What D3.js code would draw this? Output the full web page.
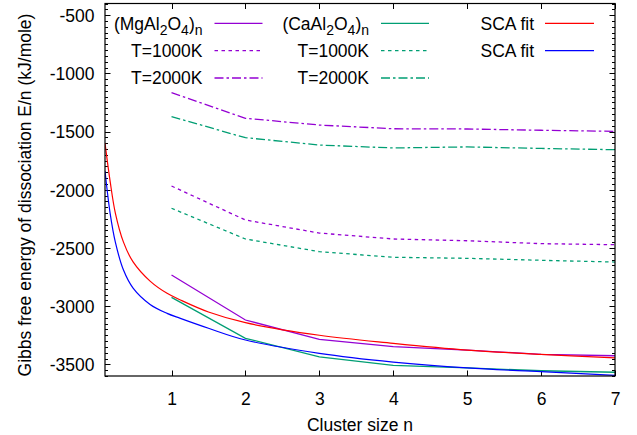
<!DOCTYPE html>
<html>
<head>
<meta charset="utf-8">
<script src="https://cdn.jsdelivr.net/npm/d3@7"></script>
<style>
  body { margin: 0; background: #fff; }
  svg text { font-family: "Liberation Sans", Arial, Helvetica, sans-serif; }
</style>
</head>
<body>
<svg id="chart" width="637" height="435"></svg>
<script>
// ---- data ----
const clusterN = [1, 2, 3, 4, 5, 6, 7];
const mgAl2O4_0K    = [-2732, -3119, -3285, -3348, -3377, -3414, -3426];
const mgAl2O4_1000K = [-1968, -2260, -2372, -2423, -2438, -2463, -2472];
const mgAl2O4_2000K = [-1166, -1386, -1444, -1476, -1478, -1489, -1498];
const caAl2O4_0K    = [-2924, -3276, -3435, -3508, -3531, -3555, -3568];
const caAl2O4_1000K = [-2159, -2423, -2532, -2580, -2589, -2606, -2621];
const caAl2O4_2000K = [-1372, -1553, -1616, -1641, -1632, -1645, -1656];

const fitN    = [0.1, 0.17, 0.24, 0.35, 0.48, 0.71, 0.94, 1.12, 1.5, 2, 3, 4, 5, 6, 7];
const fitMg   = [-1600, -1930, -2200, -2450, -2620, -2785, -2890, -2947, -3050, -3142, -3250, -3319, -3377, -3414, -3445];
const fitCa   = [-1840, -2205, -2450, -2690, -2845, -2985, -3062, -3105, -3190, -3291, -3405, -3480, -3531, -3563, -3594];

const xTicks = [1, 2, 3, 4, 5, 6, 7];
const yTicks = [-500, -1000, -1500, -2000, -2500, -3000, -3500];
const xDomain = [0.1, 7];
const yDomain = [-3600, -400];

// ---- layout ----
const svg = d3.select("#chart");
const L = 105, R = 615, T = 3.5, B = 376;
const FS = 17.5;
const x = d3.scaleLinear().domain(xDomain).range([L, R]);
const y = d3.scaleLinear().domain(yDomain).range([B, T]);

const PURPLE = "#9400d3", GREEN = "#009e73", RED = "#ff0000", BLUE = "#0000ff";
const DOT = "3.5,3.5", DASHDOT = "9,3,2.5,3";

svg.append("defs").append("clipPath").attr("id", "clip")
  .append("rect").attr("x", L).attr("y", T).attr("width", R - L).attr("height", B - T);

// ---- axes with ticks (inward, mirrored) ----
const gAx = svg.append("g").attr("stroke", "#000").attr("stroke-width", 1);
const minorY = d3.range(-3600, -399, 50).filter(v => v % 500 !== 0);
xTicks.forEach(t => {
  const px = Math.round(x(t)) + 0.5;
  gAx.append("line").attr("x1", px).attr("x2", px).attr("y1", B).attr("y2", B - 5.5);
  gAx.append("line").attr("x1", px).attr("x2", px).attr("y1", T).attr("y2", T + 5.5);
});
yTicks.forEach(t => {
  const py = Math.round(y(t)) + 0.5;
  gAx.append("line").attr("x1", L).attr("x2", L + 5.5).attr("y1", py).attr("y2", py);
  gAx.append("line").attr("x1", R).attr("x2", R - 5.5).attr("y1", py).attr("y2", py);
});
minorY.forEach(t => {
  const py = Math.round(y(t)) + 0.5;
  gAx.append("line").attr("x1", L).attr("x2", L + 3).attr("y1", py).attr("y2", py);
  gAx.append("line").attr("x1", R).attr("x2", R - 3).attr("y1", py).attr("y2", py);
});

// tick labels via d3 axes (no tick lines / domain)
const fmt = d => String(d);
const xAxis = d3.axisBottom(x).tickValues(xTicks).tickSize(0).tickPadding(0).tickFormat(fmt);
const gx = svg.append("g").attr("transform", `translate(0,${B})`).call(xAxis);
gx.select(".domain").remove();
gx.selectAll("text").attr("font-size", FS).attr("fill", "#000").attr("dy", null).attr("y", 29)
  .attr("font-family", "Liberation Sans, Arial, sans-serif");

const yAxis = d3.axisLeft(y).tickValues(yTicks).tickSize(0).tickPadding(0).tickFormat(fmt);
const gy = svg.append("g").attr("transform", `translate(${L - 10.5},0)`).call(yAxis);
gy.select(".domain").remove();
gy.selectAll("text").attr("font-size", FS).attr("fill", "#000").attr("dy", "0.36em")
  .attr("font-family", "Liberation Sans, Arial, sans-serif");

// axis titles
svg.append("text").attr("x", (L + R) / 2).attr("y", 431).attr("text-anchor", "middle")
  .attr("font-size", FS).text("Cluster size n");
svg.append("text").attr("transform", `translate(31,195) rotate(-90)`)
  .attr("text-anchor", "middle").attr("font-size", FS)
  .text("Gibbs free energy of dissociation E/n (kJ/mole)");

// ---- data lines ----
const gData = svg.append("g").attr("clip-path", "url(#clip)");
const line = d3.line().x(d => x(d[0])).y(d => y(d[1]));
const smooth = d3.line().x(d => x(d[0])).y(d => y(d[1])).curve(d3.curveCatmullRom.alpha(0.5));

const series = [
  { n: clusterN, v: mgAl2O4_0K,    c: PURPLE, dash: null },
  { n: clusterN, v: mgAl2O4_1000K, c: PURPLE, dash: DOT },
  { n: clusterN, v: mgAl2O4_2000K, c: PURPLE, dash: DASHDOT },
  { n: clusterN, v: caAl2O4_0K,    c: GREEN,  dash: null },
  { n: clusterN, v: caAl2O4_1000K, c: GREEN,  dash: DOT },
  { n: clusterN, v: caAl2O4_2000K, c: GREEN,  dash: DASHDOT },
];
series.forEach(s => {
  gData.append("path").datum(s.n.map((n, i) => [n, s.v[i]]))
    .attr("d", line).attr("fill", "none").attr("stroke", s.c).attr("stroke-width", 1.3)
    .attr("stroke-dasharray", s.dash);
});
[{ v: fitMg, c: RED }, { v: fitCa, c: BLUE }].forEach(s => {
  gData.append("path").datum(fitN.map((n, i) => [n, s.v[i]]))
    .attr("d", smooth).attr("fill", "none").attr("stroke", s.c).attr("stroke-width", 1.2);
});

// border
svg.append("rect").attr("x", L).attr("y", T).attr("width", R - L).attr("height", B - T)
  .attr("fill", "none").attr("stroke", "#000").attr("stroke-width", 1.2);

// ---- legend ----
const legend = [
  { col: 0, row: 0, label: "mg", c: PURPLE, dash: null },
  { col: 0, row: 1, label: "T=1000K", c: PURPLE, dash: DOT },
  { col: 0, row: 2, label: "T=2000K", c: PURPLE, dash: DASHDOT },
  { col: 1, row: 0, label: "ca", c: GREEN, dash: null },
  { col: 1, row: 1, label: "T=1000K", c: GREEN, dash: DOT },
  { col: 1, row: 2, label: "T=2000K", c: GREEN, dash: DASHDOT },
  { col: 2, row: 0, label: "SCA fit", c: RED, dash: null },
  { col: 2, row: 1, label: "SCA fit", c: BLUE, dash: null },
];
const colTextRight = [202.5, 369, 534];
const colLine = [[214.5, 262.5], [381, 429], [545, 594]];
const rowY = [23.3, 50.7, 78];
const gLeg = svg.append("g");
legend.forEach(e => {
  const ty = rowY[e.row];
  const t = gLeg.append("text").attr("x", colTextRight[e.col]).attr("y", ty + 6.3)
    .attr("text-anchor", "end").attr("font-size", FS);
  if (e.label === "mg" || e.label === "ca") {
    const base = e.label === "mg" ? "(MgAl" : "(CaAl";
    t.append("tspan").text(base);
    t.append("tspan").attr("font-size", FS * 0.8).attr("dy", 5).text("2");
    t.append("tspan").attr("dy", -5).text("O");
    t.append("tspan").attr("font-size", FS * 0.8).attr("dy", 5).text("4");
    t.append("tspan").attr("dy", -5).text(")");
    t.append("tspan").attr("font-size", FS * 0.8).attr("dy", 5).text("n");
  } else {
    t.text(e.label);
  }
  gLeg.append("line").attr("x1", colLine[e.col][0]).attr("x2", colLine[e.col][1])
    .attr("y1", ty).attr("y2", ty).attr("stroke", e.c).attr("stroke-width", 1.3)
    .attr("stroke-dasharray", e.dash);
});
</script>
</body>
</html>
